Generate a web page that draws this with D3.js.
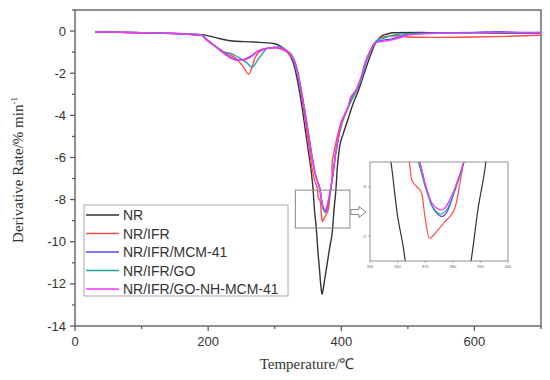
<!DOCTYPE html>
<html>
<head>
<meta charset="utf-8">
<script src="https://cdn.jsdelivr.net/npm/d3@7"></script>
<style>
  body { margin: 0; background: #fff; }
  svg { display: block; }
</style>
</head>
<body>
<svg width="550" height="380"></svg>
<script>
// series names + colours
var names = ["NR", "NR/IFR", "NR/IFR/MCM-41", "NR/IFR/GO", "NR/IFR/GO-NH-MCM-41"];
var colors = ["#333333", "#ff4a4a", "#4a4aff", "#22a39b", "#ff33ff"];

// [temperature, derivative rate]
var nr = [[30,-0.05],[60,-0.06],[100,-0.08],[150,-0.12],[190,-0.17],[210,-0.3],[233,-0.46],[268,-0.52],[298,-0.59],[308,-0.7],
  [319,-0.98],[328,-1.52],[336,-2.65],[341,-3.6],[346,-4.7],[351,-5.8],[355,-6.7],[357.6,-7.5],[360,-8.6],[362,-9.2],[363,-9.6],
  [365,-10.5],[367,-11.2],[369,-12.0],[371,-12.5],[373,-12.2],[376,-11.6],[379,-11.0],[383,-10.2],[386.6,-9.5],[389,-8.5],
  [392,-7.5],[394,-6.5],[397,-5.6],[403,-4.87],[410,-4.2],[416,-3.6],[426,-2.8],[436,-1.86],[444,-1.14],[451,-0.59],[459,-0.27],
  [469,-0.14],[478,-0.08],[520,-0.07],[560,-0.1],[600,-0.08],[650,-0.1],[700,-0.1]];

var nrIfr = [[30,-0.03],[60,-0.05],[100,-0.08],[150,-0.12],[188,-0.17],[198,-0.4],[210,-0.7],[223,-0.98],[241,-1.28],[253,-1.7],
  [261,-2.05],[266,-1.7],[271,-1.22],[281,-0.9],[298,-0.78],[313,-0.9],[322,-1.1],[330,-1.5],[338,-2.5],[343,-3.6],[348,-4.7],
  [352,-5.6],[356,-6.5],[360,-7.1],[364.2,-7.5],[365.1,-7.86],[367.5,-8.03],[368.7,-8.12],[369.9,-8.6],[371.5,-9.04],[374.2,-8.9],
  [377.2,-8.7],[379,-8.6],[380.8,-8.43],[382.6,-7.93],[383.8,-7.55],[385,-7.3],[386,-7.1],[386.3,-6.2],[387.5,-6.0],[394,-5.0],
  [400,-4.3],[406,-3.9],[414,-3.35],[421,-2.95],[429,-2.35],[436,-1.55],[444,-0.95],[451,-0.55],[459,-0.32],[469,-0.25],
  [484,-0.22],[500,-0.28],[534,-0.3],[600,-0.28],[650,-0.25],[700,-0.2]];

var nrIfrMcm = [[30,-0.04],[60,-0.05],[100,-0.08],[140,-0.1],[170,-0.14],[180,-0.2],[190,-0.18],[198,-0.4],[210,-0.7],[223,-1.02],
  [237,-1.3],[248,-1.38],[256,-1.32],[266,-1.15],[275,-0.95],[288,-0.82],[305,-0.78],[318,-0.95],[326,-1.2],[333,-1.8],[340,-2.9],
  [346,-4.0],[351,-5.0],[356,-6.0],[361,-6.8],[365,-7.2],[368,-7.5],[370,-7.95],[372.5,-8.4],[374,-8.52],[376,-8.6],[378,-8.5],
  [380,-8.2],[382.6,-7.75],[384,-7.5],[387,-6.9],[391,-5.9],[396,-5.0],[401,-4.3],[406,-3.9],[411,-3.55],[414,-3.2],[421,-2.9],
  [429,-2.3],[436,-1.5],[444,-0.9],[451,-0.55],[459,-0.45],[474,-0.38],[490,-0.25],[499,-0.15],[529,-0.1],[560,-0.08],
  [600,-0.06],[640,-0.03],[670,-0.08],[700,-0.07]];

var nrIfrGo = [[30,-0.04],[60,-0.05],[100,-0.08],[150,-0.12],[188,-0.17],[198,-0.4],[210,-0.7],[223,-1.0],[233,-1.05],[248,-1.3],
  [258,-1.5],[266,-1.72],[272,-1.5],[278,-1.22],[290,-0.81],[308,-0.75],[318,-0.92],[326,-1.15],[333,-1.7],[340,-2.8],[346,-3.9],
  [351,-4.9],[356,-5.9],[361,-6.8],[365,-7.2],[367.5,-7.5],[370,-8.0],[372.5,-8.38],[375.5,-8.55],[378,-8.45],[380,-8.18],
  [382.6,-7.78],[384,-7.5],[387.5,-6.8],[392,-5.8],[397,-4.9],[402,-4.3],[408,-3.8],[415,-3.3],[423,-2.8],[431,-2.2],[438,-1.4],
  [446,-0.8],[453,-0.45],[462,-0.35],[478,-0.2],[500,-0.12],[550,-0.1],[600,-0.08],[700,-0.07]];

var nrIfrGoNh = [[30,-0.04],[60,-0.05],[100,-0.08],[140,-0.1],[170,-0.15],[180,-0.19],[190,-0.2],[198,-0.43],[210,-0.72],
  [223,-1.05],[243,-1.38],[256,-1.35],[266,-1.19],[275,-0.94],[288,-0.83],[305,-0.78],[318,-0.95],[326,-1.2],[333,-1.8],
  [340,-2.9],[346,-4.0],[351,-5.0],[356,-6.0],[361,-6.8],[365,-7.2],[368,-7.5],[370,-7.93],[372.5,-8.33],[376,-8.47],
  [380,-8.13],[382.6,-7.73],[384,-7.5],[387,-6.9],[391,-5.9],[396,-5.0],[401,-4.3],[406,-3.9],[411,-3.5],[414,-3.15],
  [421,-2.85],[429,-2.25],[436,-1.5],[444,-0.9],[451,-0.55],[459,-0.5],[474,-0.43],[490,-0.3],[499,-0.19],[529,-0.12],
  [600,-0.1],[650,-0.05],[700,-0.08]];

var series = [nr, nrIfr, nrIfrMcm, nrIfrGo, nrIfrGoNh];

var xTicks = [0, 200, 400, 600];
var xMinor = [100, 300, 500, 700];
var yTicks = [0, -2, -4, -6, -8, -10, -12, -14];
var yMinor = [1, -1, -3, -5, -7, -9, -11, -13];

// zoomed window [T0, T1] x [V0, V1]
var zoomT = [331, 413], zoomV = [-7.55, -9.35];
var insetT = [350, 400], insetV = [-9.5, -7.5];
var insetXTicks = [350, 360, 370, 380, 390, 400];
var insetYTicks = [-8, -9];

var svg = d3.select("svg");
var mLeft = 75, mRight = 541, mTop = 10, mBottom = 326;

var x = d3.scaleLinear().domain([0, 700]).range([mLeft, mRight]);
var y = d3.scaleLinear().domain([-14, 1]).range([mBottom, mTop]);

var axisCol = "#555";

// frame
svg.append("rect")
  .attr("x", mLeft).attr("y", mTop)
  .attr("width", mRight - mLeft).attr("height", mBottom - mTop)
  .attr("fill", "none").attr("stroke", axisCol).attr("stroke-width", 1.3);

// x axis ticks
svg.selectAll(".xt").data(xTicks.concat(xMinor)).enter().append("line")
  .attr("x1", function(d) { return x(d); }).attr("x2", function(d) { return x(d); })
  .attr("y1", mBottom).attr("y2", function(d) { return xTicks.indexOf(d) >= 0 ? mBottom + 5 : mBottom + 3; })
  .attr("stroke", axisCol).attr("stroke-width", 1.2);
svg.selectAll(".xl").data(xTicks).enter().append("text")
  .attr("x", function(d) { return x(d); }).attr("y", 346)
  .attr("text-anchor", "middle")
  .attr("font-family", "Liberation Sans, Arial, sans-serif").attr("font-size", 13).attr("fill", "#333")
  .text(function(d) { return d; });

// y axis ticks
svg.selectAll(".yt").data(yTicks.concat(yMinor)).enter().append("line")
  .attr("y1", function(d) { return y(d); }).attr("y2", function(d) { return y(d); })
  .attr("x1", mLeft).attr("x2", function(d) { return yTicks.indexOf(d) >= 0 ? mLeft - 5 : mLeft - 3; })
  .attr("stroke", axisCol).attr("stroke-width", 1.2);
svg.selectAll(".yl").data(yTicks).enter().append("text")
  .attr("x", 66).attr("y", function(d) { return y(d) + 4.5; })
  .attr("text-anchor", "end")
  .attr("font-family", "Liberation Sans, Arial, sans-serif").attr("font-size", 13).attr("fill", "#333")
  .text(function(d) { return d; });

// axis titles
svg.append("text")
  .attr("x", 307).attr("y", 369)
  .attr("text-anchor", "middle")
  .attr("font-family", "Liberation Serif, Times New Roman, serif").attr("font-size", 15).attr("fill", "#333")
  .text("Temperature/\u2103");

var yt = svg.append("text")
  .attr("transform", "translate(23,170) rotate(-90)")
  .attr("text-anchor", "middle")
  .attr("font-family", "Liberation Serif, Times New Roman, serif").attr("font-size", 15).attr("fill", "#333");
yt.append("tspan").text("Derivative Rate/% min");
yt.append("tspan").attr("dy", -6).attr("font-size", 9).text("-1");

// curves
var line = d3.line()
  .x(function(d) { return x(d[0]); })
  .y(function(d) { return y(d[1]); })
  .curve(d3.curveMonotoneX);

svg.selectAll(".curve").data(series).enter().append("path")
  .attr("d", line)
  .attr("fill", "none")
  .attr("stroke", function(d, i) { return colors[i]; })
  .attr("stroke-width", 1.4)
  .attr("stroke-linejoin", "round");

// zoom box
svg.append("rect")
  .attr("x", x(zoomT[0])).attr("y", y(zoomV[0]))
  .attr("width", x(zoomT[1]) - x(zoomT[0])).attr("height", y(zoomV[1]) - y(zoomV[0]))
  .attr("fill", "none").attr("stroke", "#888").attr("stroke-width", 1);

// arrow
var ax0 = x(zoomT[1]) + 1, ay = 212;
svg.append("path")
  .attr("d", "M" + ax0 + "," + (ay - 2.5) + "H" + (ax0 + 8) + "V" + (ay - 5.5) + "L" + (ax0 + 15) + "," + ay +
    "L" + (ax0 + 8) + "," + (ay + 5.5) + "V" + (ay + 2.5) + "H" + ax0 + "Z")
  .attr("fill", "#fff").attr("stroke", "#888").attr("stroke-width", 1);

// inset
var ix = d3.scaleLinear().domain(insetT).range([370, 508]);
var iy = d3.scaleLinear().domain(insetV).range([261, 162]);

svg.append("clipPath").attr("id", "insetClip")
  .append("rect").attr("x", 370).attr("y", 162).attr("width", 138).attr("height", 99);

var iline = d3.line()
  .x(function(d) { return ix(d[0]); })
  .y(function(d) { return iy(d[1]); })
  .curve(d3.curveMonotoneX);

svg.append("rect").attr("x", 370).attr("y", 162).attr("width", 138).attr("height", 99)
  .attr("fill", "#fff");

svg.append("g").attr("clip-path", "url(#insetClip)")
  .selectAll("path").data(series).enter().append("path")
  .attr("d", iline)
  .attr("fill", "none")
  .attr("stroke", function(d, i) { return colors[i]; })
  .attr("stroke-width", 1.2);

svg.append("rect").attr("x", 370).attr("y", 162).attr("width", 138).attr("height", 99)
  .attr("fill", "none").attr("stroke", "#777").attr("stroke-width", 0.8);

svg.selectAll(".ixt").data(insetXTicks).enter().append("line")
  .attr("x1", function(d) { return ix(d); }).attr("x2", function(d) { return ix(d); })
  .attr("y1", 261).attr("y2", 263)
  .attr("stroke", "#777").attr("stroke-width", 0.6);
svg.selectAll(".ixl").data(insetXTicks).enter().append("text")
  .attr("x", function(d) { return ix(d); }).attr("y", 268)
  .attr("text-anchor", "middle")
  .attr("font-family", "Liberation Sans, Arial, sans-serif").attr("font-size", 4).attr("fill", "#666")
  .text(function(d) { return d; });
svg.selectAll(".iyt").data(insetYTicks).enter().append("line")
  .attr("y1", function(d) { return iy(d); }).attr("y2", function(d) { return iy(d); })
  .attr("x1", 370).attr("x2", 368)
  .attr("stroke", "#777").attr("stroke-width", 0.6);
svg.selectAll(".iyl").data(insetYTicks).enter().append("text")
  .attr("x", 366).attr("y", function(d) { return iy(d) + 1.5; })
  .attr("text-anchor", "end")
  .attr("font-family", "Liberation Sans, Arial, sans-serif").attr("font-size", 4).attr("fill", "#666")
  .text(function(d) { return d; });

// legend
var lg = svg.append("g").attr("transform", "translate(84,205)");
lg.append("rect").attr("width", 204).attr("height", 91)
  .attr("fill", "#fff").attr("stroke", "#aaa").attr("stroke-width", 1);
var rows = lg.selectAll(".row").data(names).enter().append("g")
  .attr("transform", function(d, i) { return "translate(0," + (10 + i * 18.5) + ")"; });
rows.append("line").attr("x1", 2).attr("x2", 35).attr("y1", 0).attr("y2", 0)
  .attr("stroke", function(d, i) { return colors[i]; }).attr("stroke-width", 1.5);
rows.append("text").attr("x", 39).attr("y", 5)
  .attr("font-family", "Liberation Sans, Arial, sans-serif").attr("font-size", 14).attr("fill", "#333")
  .text(function(d) { return d; });
</script>
</body>
</html>
